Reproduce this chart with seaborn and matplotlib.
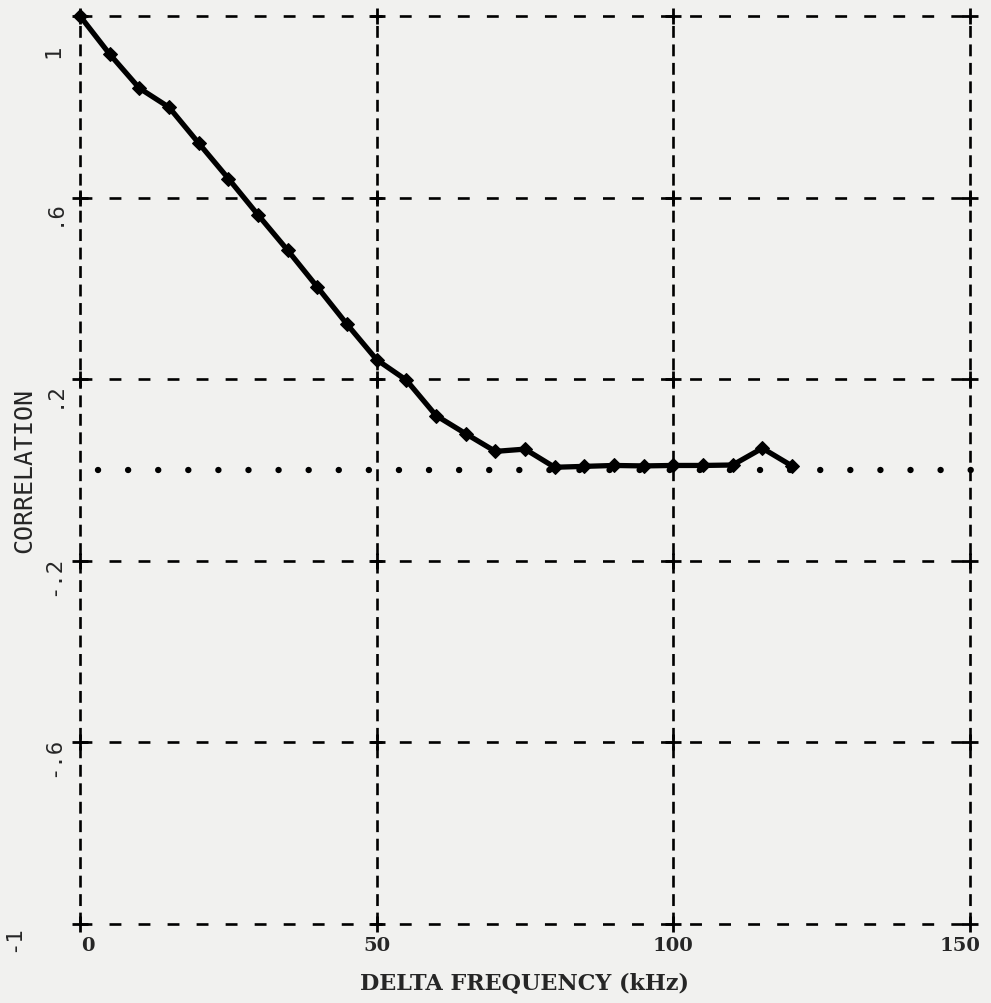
import numpy as np
import matplotlib
matplotlib.use('Agg')
import matplotlib.pyplot as plt
import matplotlib.transforms as mtransforms
import seaborn as sns

sns.set_style('white')

# values
freq = [0, 5, 10, 15, 20, 25, 30, 35, 40, 45, 50, 55, 60, 65, 70, 75,
        80, 85, 90, 95, 100, 105, 110, 115, 120]
corr = [1.0, 0.916, 0.841, 0.799, 0.72, 0.642, 0.562, 0.484, 0.403, 0.321,
        0.243, 0.198, 0.12, 0.08, 0.041, 0.046, 0.006, 0.008, 0.01, 0.009,
        0.01, 0.01, 0.011, 0.048, 0.009]
x_ticks = [0, 50, 100, 150]
x_labels = ['0', '50', '100', '150']
y_ticks = [1, 0.6, 0.2, -0.2, -0.6, -1]
y_labels = ['1', '.6', '.2', '-.2', '-.6', '-1']

paper = '#f1f1ef'
fig = plt.figure(figsize=(9.91, 10.04), dpi=100, facecolor=paper)
ax = fig.add_axes([80/991, 1-925/1004, 890/991, 908/1004], facecolor=paper)
ax.set_xlim(0, 150)
ax.set_ylim(-1, 1)
for s in ax.spines.values():
    s.set_visible(False)

# dashed grid, different dash for horizontal / vertical
for yv in y_ticks:
    ax.axhline(yv, color='black', lw=1.9, linestyle=(0, (4.5, 6.5)), zorder=1, clip_on=False)
for xv in x_ticks:
    ax.axvline(xv, color='black', lw=1.9, linestyle=(0, (4.5, 2.5)), zorder=1, clip_on=False)
gx, gy = np.meshgrid(x_ticks, y_ticks)
ax.scatter(gx.ravel(), gy.ravel(), marker='+', s=120, c='black', linewidths=2, zorder=2, clip_on=False)

# zero line: round dots about 30 px apart
ax.plot([3, 153], [0, 0], color='black', lw=4.6, linestyle=(0, (0.01, 4.7)),
        dash_capstyle='round', zorder=1, clip_on=False)

sns.lineplot(x=freq, y=corr, ax=ax, color='black', linewidth=3.8, marker='D',
             markersize=7, markeredgecolor='black', zorder=3, clip_on=False)

ax.set_xticks(x_ticks)
ax.set_xticklabels(x_labels, fontfamily='DejaVu Serif', fontweight='bold', fontsize=14)
ax.set_yticks(y_ticks)
ax.set_yticklabels(y_labels, fontfamily='DejaVu Sans Mono', fontsize=16, rotation=90, va='center')
ax.tick_params(axis='both', length=0)
ax.tick_params(axis='x', pad=9)
ax.tick_params(axis='y', pad=12)
off = mtransforms.ScaledTranslation(0, -14/100, fig.dpi_scale_trans)
ylabs = ax.get_yticklabels()
for lab in ylabs:
    lab.set_transform(lab.get_transform() + off)
ylabs[0].set_transform(ylabs[0].get_transform() + mtransforms.ScaledTranslation(0, -20/100, fig.dpi_scale_trans))
ylabs[-1].set_transform(ylabs[-1].get_transform() + mtransforms.ScaledTranslation(-40/100, 0, fig.dpi_scale_trans))
xlabs = ax.get_xticklabels()
xlabs[0].set_transform(xlabs[0].get_transform() + mtransforms.ScaledTranslation(8/100, 0, fig.dpi_scale_trans))
xlabs[-1].set_transform(xlabs[-1].get_transform() + mtransforms.ScaledTranslation(-10/100, 0, fig.dpi_scale_trans))

ax.set_xlabel('DELTA FREQUENCY (kHz)', fontfamily='DejaVu Serif', fontweight='bold',
              fontsize=16, labelpad=12)
ax.set_ylabel('CORRELATION', fontfamily='DejaVu Sans Mono', fontsize=18)
ax.yaxis.set_label_coords(-0.049, 0.5)

fig.savefig('out.png', dpi=100, facecolor=paper)
